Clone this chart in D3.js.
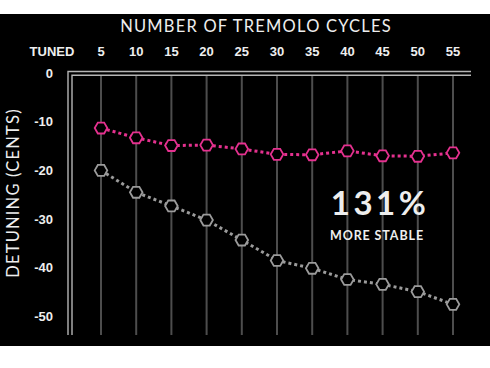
<!DOCTYPE html>
<html><head><meta charset="utf-8">
<script src="https://cdn.jsdelivr.net/npm/d3@7"></script>
<style>html,body{margin:0;padding:0;background:#fff;}svg{display:block;}</style>
</head><body>
<svg id="c" width="490" height="368"></svg>
<script>
const cycles = [5, 10, 15, 20, 25, 30, 35, 40, 45, 50, 55];
const xTickLabels = ["5","10","15","20","25","30","35","40","45","50","55"];
const yTicks = [0, -10, -20, -30, -40, -50];
const pinkValues = [-11.3, -13.3, -14.9, -14.8, -15.6, -16.7, -16.8, -16.0, -17.0, -17.1, -16.4];
const grayValues = [-20.0, -24.5, -27.3, -30.2, -34.3, -38.5, -40.1, -42.4, -43.4, -44.9, -47.5];
const titleText = "NUMBER OF TREMOLO CYCLES";
const yTitleText = "DETUNING (CENTS)";
const tunedLabel = "TUNED";
const bigText = "131%";
const subText = "MORE STABLE";

const svg = d3.select("#c");
svg.append("rect").attr("x",0).attr("y",14).attr("width",490).attr("height",332).attr("fill","#000");

const x = d3.scaleLinear().domain([5,55]).range([101,453]);
const y = d3.scaleLinear().domain([0,-50]).range([73,316.5]);

// grid lines
svg.append("g").selectAll("line").data(cycles).join("line")
  .attr("x1",d=>x(d)).attr("x2",d=>x(d)).attr("y1",75).attr("y2",335)
  .attr("stroke","#4d4d4d").attr("stroke-width",2);

// double frame
const fr = svg.append("g").attr("fill","none").attr("stroke","#b5b5b5").attr("stroke-width",1.4);
fr.append("path").attr("d","M68,335V71.5H471");
fr.append("path").attr("d","M72,335V75.2H471");

// x tick labels
svg.append("g").selectAll("text").data(cycles).join("text")
  .attr("x",d=>x(d)).attr("y",56).attr("text-anchor","middle")
  .attr("font-family","Liberation Sans, Arial, sans-serif").attr("font-weight","bold")
  .attr("font-size",13).attr("fill","#eee").text((d,i)=>xTickLabels[i]);
svg.append("text").attr("x",52).attr("y",56).attr("text-anchor","middle")
  .attr("font-family","Liberation Sans, Arial, sans-serif").attr("font-weight","bold")
  .attr("font-size",13).attr("fill","#eee").text(tunedLabel);

// y tick labels
svg.append("g").selectAll("text").data(yTicks).join("text")
  .attr("x",53).attr("y",d=>y(d)+4.5).attr("text-anchor","end")
  .attr("font-family","Liberation Sans, Arial, sans-serif").attr("font-weight","bold")
  .attr("font-size",13).attr("fill","#eee").text(d=>d);

// titles
svg.append("text").attr("x",256).attr("y",32).attr("text-anchor","middle")
  .attr("font-family","Lato, sans-serif").attr("font-size",16.5).attr("letter-spacing",1.2)
  .attr("fill","#eee").text(titleText);
svg.append("text").attr("transform","translate(19,193) rotate(-90)").attr("text-anchor","middle")
  .attr("font-family","Lato, sans-serif").attr("font-size",16.5).attr("letter-spacing",1.2)
  .attr("fill","#eee").text(yTitleText);

// series
function series(vals, color){
  const pts = cycles.map((c,i)=>[x(c), y(vals[i])]);
  svg.append("path").attr("d", d3.line()(pts)).attr("fill","none")
    .attr("stroke",color).attr("stroke-width",3).attr("stroke-dasharray","3,3");
  const hex = d3.range(6).map(k=>{const a=k*Math.PI/3; return [6.3*Math.cos(a), 6.3*Math.sin(a)];});
  svg.append("g").selectAll("path").data(pts).join("path")
    .attr("transform",d=>`translate(${d[0]},${d[1]})`)
    .attr("d", "M"+hex.join("L")+"Z")
    .attr("fill","#000").attr("stroke",color).attr("stroke-width",1.8);
}
series(grayValues, "#9b9b9b");
series(pinkValues, "#e5318f");

// annotation
svg.append("text").attr("x",380).attr("y",215).attr("text-anchor","middle")
  .attr("font-family","Lato, sans-serif").attr("font-weight","bold").attr("font-size",33)
  .attr("letter-spacing",3.5).attr("fill","#eee").text(bigText);
svg.append("text").attr("x",377).attr("y",239.5).attr("text-anchor","middle")
  .attr("font-family","Lato, sans-serif").attr("font-weight","bold").attr("font-size",12.5).attr("letter-spacing",0.9)
  .attr("fill","#eee").text(subText);
</script>
</body></html>
